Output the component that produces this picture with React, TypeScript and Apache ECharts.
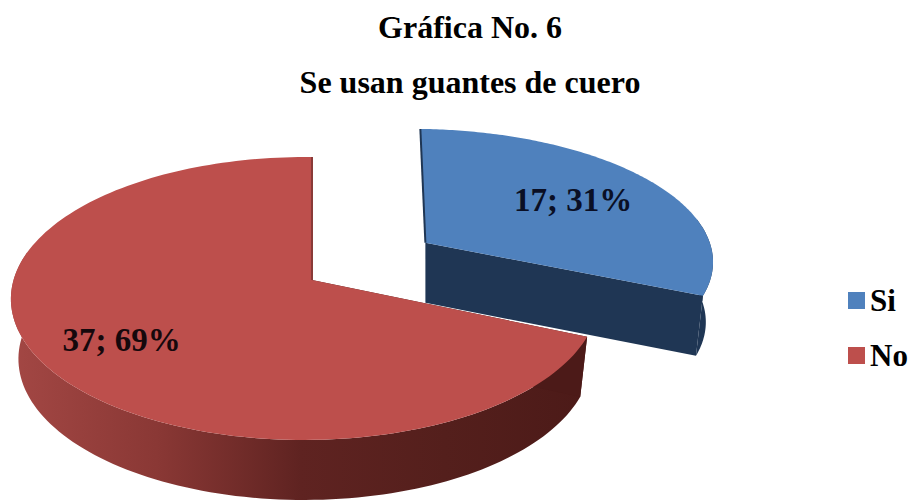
import React, { useEffect, useRef } from "react";
import * as echarts from "echarts";

// Survey answers
const categories = ["Si", "No"];
const answers = [17, 37];
const faceColors = ["#4f81bd", "#bd4f4c"];
const labelColors = ["#0a0f25", "#16080c"];

const titleLines = ["Gráfica No. 6", "Se usan guantes de cuero"];

// Projection of the tilted pie plane onto the canvas
const APEX_X = 312;
const APEX_Y = 280;
const RADIUS_X = 291;
const RADIUS_Y = 139;
const DEPTH_V = 0.1307;
const DEPTH_U = 0.025;
const THICKNESS = 60;
const BASE_SHRINK = 0.975;
const EXPLODE = [0.51, 0];
const LABEL_RADIUS = [0.65, 0.73];

// Per-slice correction of the exploded slice's perspective
const SLICE_SCALE_X = [1.06, 1];
const SLICE_SHEAR = [-0.078, 0];
const SLICE_NUDGE_X = [-5, 0];

const SERIF = "Liberation Serif";
const total = answers.reduce((a, b) => a + b, 0);

function project(u: number, v: number): [number, number] {
  const s = 1 / (1 + DEPTH_V * v + DEPTH_U * u);
  return [APEX_X + RADIUS_X * u * s, APEX_Y - RADIUS_Y * v * s];
}

function sliceRender(index: number) {
  return (_params: any, api: any) => {
    const value = api.value(0);
    const before = answers.slice(0, index).reduce((a, b) => a + b, 0);
    const start = (before / total) * Math.PI * 2;
    const end = ((before + value) / total) * Math.PI * 2;
    const mid = (start + end) / 2;
    const du = EXPLODE[index] * Math.sin(mid);
    const dv = EXPLODE[index] * Math.cos(mid);
    const origin = project(du, dv);
    const at = (r: number, a: number): [number, number] => {
      const p = project(du + r * Math.sin(a), dv + r * Math.cos(a));
      return [
        origin[0] +
          SLICE_NUDGE_X[index] +
          (p[0] - origin[0]) * SLICE_SCALE_X[index] +
          SLICE_SHEAR[index] * (p[1] - origin[1]),
        p[1],
      ];
    };

    const apex = at(0, 0);
    const lower = (p: [number, number]): [number, number] => [
      apex[0] + (p[0] - apex[0]) * BASE_SHRINK,
      p[1] + THICKNESS,
    ];

    const angles: number[] = [];
    const steps = 160;
    for (let i = 0; i <= steps; i++) angles.push(start + ((end - start) * i) / steps);
    const arc = angles.map((a) => at(1, a));
    // Only the part of the rim that faces the viewer gets a wall
    const rim = angles.filter((a) => Math.cos(a) < 0.2).map((a) => at(1, a));

    const wallFill =
      index === 0
        ? "#1f3654"
        : {
            type: "linear",
            global: true,
            x: 12,
            y: 0,
            x2: 590,
            y2: 0,
            colorStops: [
              { offset: 0, color: "#a34744" },
              { offset: 0.25, color: "#8a3835" },
              { offset: 0.5, color: "#5f2321" },
              { offset: 0.75, color: "#541f1c" },
              { offset: 1, color: "#4c1a18" },
            ],
          };

    const corner = arc[0];
    const farEdge = arc[arc.length - 1];
    const cutEdge = index === 0 ? farEdge : corner;
    const seamEdge = index === 0 ? arc[0] : farEdge;
    const labelAt = at(LABEL_RADIUS[index], mid);
    const percent = Math.round((value / total) * 100);

    return {
      type: "group",
      children: [
        {
          type: "polygon",
          shape: { points: [...rim, ...rim.map(lower).reverse()] },
          style: { fill: wallFill },
        },
        {
          type: "polygon",
          shape: { points: [apex, cutEdge, lower(cutEdge), lower(apex)] },
          style: { fill: index === 0 ? "#1f3654" : "#4c1a18" },
        },
        {
          type: "polygon",
          shape: { points: [apex, ...arc] },
          style: { fill: faceColors[index] },
        },
        {
          type: "polyline",
          shape: { points: [seamEdge, apex] },
          style: { stroke: index === 0 ? "#1f3654" : "#8a3a38", lineWidth: 2, fill: "none" },
        },
        {
          type: "text",
          x: labelAt[0],
          y: labelAt[1],
          style: {
            text: `${value}; ${percent}%`,
            fontFamily: SERIF,
            fontWeight: "bold",
            fontSize: 33,
            fill: labelColors[index],
            align: "center",
            verticalAlign: "middle",
          },
        },
      ],
    };
  };
}

export default function App() {
  const ref = useRef<HTMLDivElement>(null);

  useEffect(() => {
    document.body.style.margin = "0";
    const chart = echarts.init(ref.current!, undefined, { renderer: "svg" });
    chart.setOption({
      animation: false,
      backgroundColor: "#ffffff",
      title: titleLines.map((text, i) => ({
        text,
        left: 470,
        top: 11 + i * 55,
        padding: 0,
        textAlign: "center",
        textStyle: { fontFamily: SERIF, fontWeight: "bold", fontSize: 32, color: "#000000" },
      })),
      legend: {
        orient: "vertical",
        left: 843,
        top: 280,
        itemWidth: 17,
        itemHeight: 17,
        itemGap: 24,
        icon: "rect",
        data: categories,
        textStyle: { fontFamily: SERIF, fontWeight: "bold", fontSize: 31, color: "#000000" },
      },
      series: categories.map((name, i) => ({
        type: "custom",
        name,
        coordinateSystem: "none",
        silent: true,
        itemStyle: { color: faceColors[i] },
        data: [[answers[i]]],
        renderItem: sliceRender(i),
      })),
    });
    return () => chart.dispose();
  }, []);

  return <div ref={ref} style={{ width: 912, height: 502 }} />;
}
